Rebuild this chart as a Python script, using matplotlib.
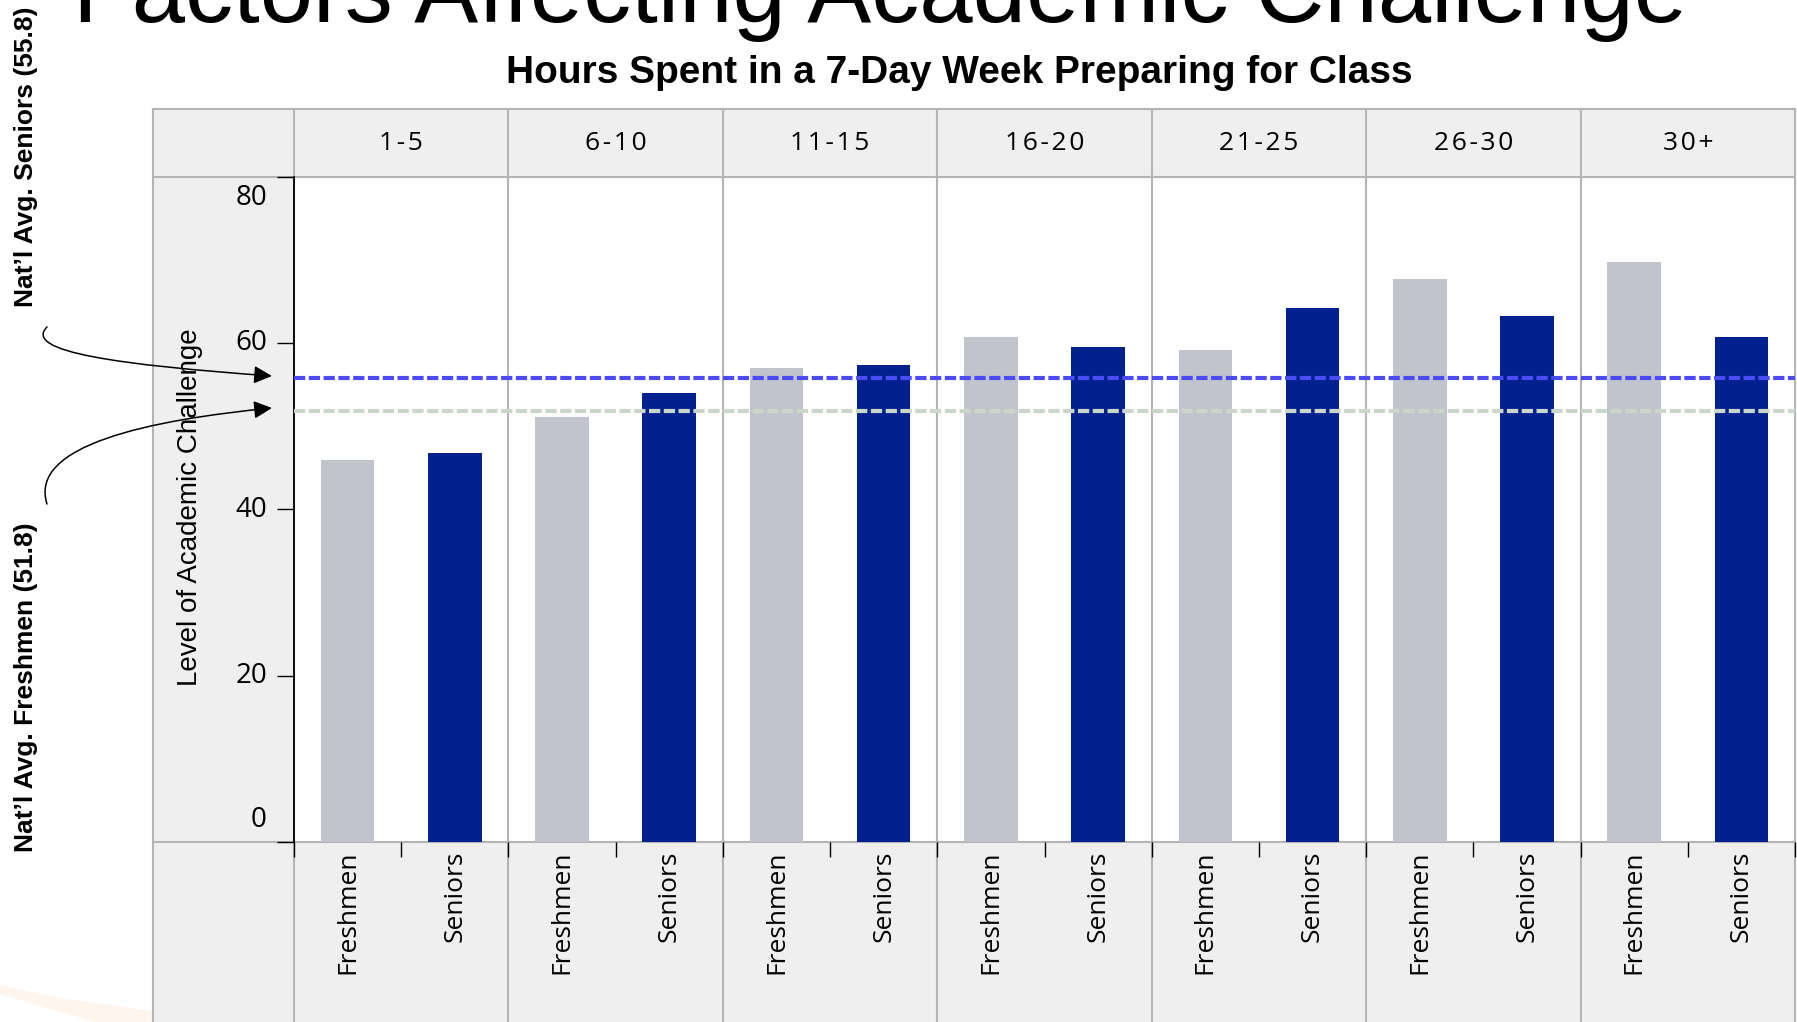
import matplotlib
matplotlib.use("Agg")
import matplotlib.pyplot as plt
import numpy as np
from matplotlib.patches import Rectangle, FancyArrowPatch, Polygon
from matplotlib.path import Path
from matplotlib.transforms import blended_transform_factory

# hours spent preparing for class, per 7-day week
hour_bins = ["1-5", "6-10", "11-15", "16-20", "21-25", "26-30", "30+"]
class_labels = ["Freshmen", "Seniors"]
freshmen = [46.0, 51.1, 57.0, 60.8, 59.2, 67.7, 69.8]
seniors = [46.8, 54.0, 57.4, 59.5, 64.2, 63.3, 60.8]
natl_seniors = 55.8
natl_freshmen = 51.8
y_ticks = [0, 20, 40, 60, 80]

W, H = 1797, 1022
GRID = "#b4b4b4"
PANEL = "#efefef"
TICK_FONT = ["Open Sans", "DejaVu Sans"]

fig = plt.figure(figsize=(W / 100, H / 100), dpi=100)

# pixel-space layer for the table frame, titles and notes (y grows downward)
bg = fig.add_axes([0, 0, 1, 1], zorder=0)
bg.set_xlim(0, W)
bg.set_ylim(H, 0)
bg.axis("off")

frame_l, frame_t = 153, 109
left, right, top, bottom = 294, 1795, 177, 842

ax = fig.add_axes([left / W, 1 - bottom / H, (right - left) / W, (bottom - top) / H], zorder=2)
ax.patch.set_alpha(0)

n = len(hour_bins)
pos = np.arange(2 * n)
vals = np.ravel(np.column_stack([freshmen, seniors]))
colors = ["#c1c4cd", "#02218f"] * n
ax.bar(pos, vals, width=0.5, color=colors, zorder=2)
ax.set_xlim(-0.5, 2 * n - 0.5)
ax.set_ylim(0, 80)

ax.axhline(natl_seniors, color="#4b4bf5", lw=3.0, ls=(0, (2.7, 0.85)), zorder=3)
ax.axhline(natl_freshmen, color="#cbd6cb", lw=3.0, ls=(0, (2.7, 0.85)), zorder=3)

for s in ["top", "right", "bottom"]:
    ax.spines[s].set_visible(False)
ax.spines["left"].set_color("black")
ax.spines["left"].set_linewidth(1.3)

ax.set_yticks(y_ticks)
ax.set_yticklabels([])
ax.tick_params(axis="y", direction="out", length=12, width=1.0, color="black")
ax.set_xticks(np.arange(-0.5, 2 * n, 1))
ax.set_xticklabels([])
ax.tick_params(axis="x", which="major", direction="out", length=11, width=1.0, color="black")
ax.set_xticks(pos, minor=True)
ax.set_xticklabels(class_labels * n, minor=True, rotation=90, va="top",
                   fontsize=19, family=TICK_FONT)
ax.tick_params(axis="x", which="minor", length=0, pad=6)

# table frame behind the plot
xdata_ypix = blended_transform_factory(ax.transData, bg.transData)
bg.add_patch(Rectangle((frame_l, frame_t), right - frame_l, top - frame_t, color=PANEL, lw=0))
bg.add_patch(Rectangle((frame_l, top), left - frame_l, H - top, color=PANEL, lw=0))
bg.add_patch(Rectangle((left, bottom), right - left, H - bottom, color=PANEL, lw=0))
for y in [frame_t, top, bottom]:
    bg.plot([frame_l, right], [y, y], color=GRID, lw=1.5)
bg.plot([frame_l, frame_l], [frame_t, H], color=GRID, lw=1.5)
for xb in np.arange(-0.5, 2 * n, 2):
    bg.plot([xb, xb], [frame_t, H], color=GRID, lw=1.5, transform=xdata_ypix)

# group headers
for i, lab in enumerate(hour_bins):
    bg.text(2 * i + 0.5, 143, "\u200a".join(lab), transform=xdata_ypix, ha="center",
            va="center", fontsize=19, family=TICK_FONT)

# y tick labels, kept inside the left column
ypix_ydata = blended_transform_factory(bg.transData, ax.transData)
for v in y_ticks:
    va = "center"
    yy = v
    if v == y_ticks[-1]:
        va = "top"
        yy = v - 0.8
    elif v == y_ticks[0]:
        va = "bottom"
        yy = v + 1.0
    bg.text(267, yy, str(v), transform=ypix_ydata, ha="right", va=va,
            fontsize=20, family=TICK_FONT)

bg.text(197, 686, "Level of Academic Challenge", rotation=90, rotation_mode="anchor",
        ha="left", va="baseline", fontsize=20, family="Liberation Sans")

# faint swoosh at the lower left
bg.add_patch(Polygon([(0, 985), (60, 998), (153, 1011), (153, 1022), (95, 1022),
                      (30, 1003), (0, 994)], color="#fff5ec", lw=0, zorder=-1))

# titles
bg.text(880, 22, "Factors Affecting Academic Challenge", ha="center", va="baseline",
        fontsize=69, family="Liberation Sans")
bg.text(959, 83, "Hours Spent in a 7-Day Week Preparing for Class", ha="center",
        va="baseline", fontsize=28, fontweight="bold", family="Liberation Sans")

# national average notes with curved arrows
bg.text(33, 307, f"Nat\u2019l Avg. Seniors ({natl_seniors})", rotation=90,
        rotation_mode="anchor", ha="left", va="baseline", fontsize=19,
        fontweight="bold", family="Liberation Sans")
bg.text(33, 852, f"Nat\u2019l Avg. Freshmen ({natl_freshmen})", rotation=90,
        rotation_mode="anchor", ha="left", va="baseline", fontsize=19,
        fontweight="bold", family="Liberation Sans")

arrow_style = "-|>,head_length=0.55,head_width=0.27"
codes = [Path.MOVETO, Path.CURVE4, Path.CURVE4, Path.CURVE4]
sen_path = Path([(47, 327), (22, 352), (120, 365), (272, 376)], codes)
fre_path = Path([(47, 504), (28, 445), (150, 420), (272, 408)], codes)
for p in [sen_path, fre_path]:
    bg.add_patch(FancyArrowPatch(path=p, arrowstyle=arrow_style, mutation_scale=20,
                                 color="black", lw=1.1, zorder=5))

fig.savefig("out.png", dpi=100)
